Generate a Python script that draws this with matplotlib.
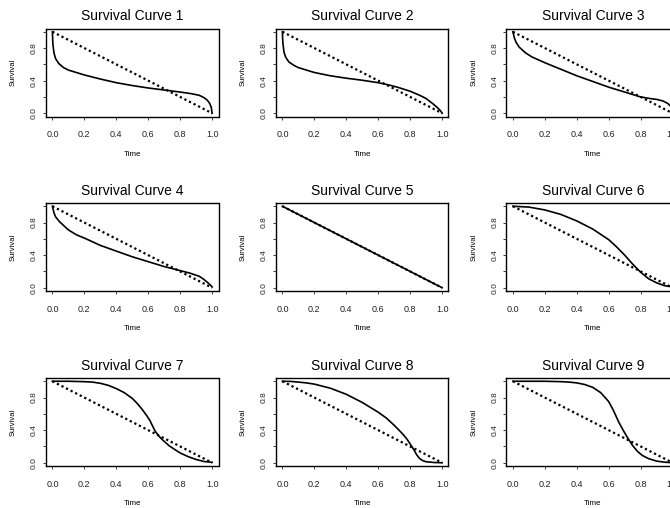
import matplotlib
matplotlib.use("Agg")
import matplotlib.pyplot as plt

plt.rcParams['font.family'] = ['Liberation Sans', 'DejaVu Sans']

titles = ["Survival Curve %d" % i for i in range(1, 10)]

# solid curves
t1 = [0.0, 0.003, 0.01, 0.02, 0.04, 0.07, 0.1, 0.15, 0.2, 0.3, 0.4, 0.5, 0.6, 0.7, 0.8, 0.87, 0.92, 0.95, 0.97, 0.985, 0.995, 1.0]
s1 = [1.0, 0.85, 0.74, 0.67, 0.61, 0.56, 0.53, 0.5, 0.47, 0.42, 0.375, 0.34, 0.31, 0.285, 0.26, 0.24, 0.22, 0.19, 0.16, 0.12, 0.07, 0.0]

t2 = [0.0, 0.003, 0.01, 0.02, 0.04, 0.07, 0.1, 0.15, 0.2, 0.3, 0.4, 0.5, 0.6, 0.66, 0.72, 0.8, 0.86, 0.9, 0.94, 0.97, 0.99, 1.0]
s2 = [1.0, 0.86, 0.75, 0.69, 0.63, 0.59, 0.56, 0.53, 0.5, 0.46, 0.43, 0.405, 0.375, 0.35, 0.32, 0.27, 0.22, 0.18, 0.12, 0.07, 0.03, 0.0]

t3 = [0.0, 0.01, 0.02, 0.04, 0.08, 0.12, 0.2, 0.3, 0.4, 0.5, 0.6, 0.7, 0.8, 0.86, 0.9, 0.94, 0.97, 0.99, 1.0]
s3 = [1.0, 0.92, 0.87, 0.81, 0.74, 0.69, 0.62, 0.54, 0.46, 0.39, 0.32, 0.26, 0.2, 0.18, 0.17, 0.15, 0.12, 0.08, 0.04]

t4 = [0.0, 0.01, 0.02, 0.045, 0.1, 0.15, 0.2, 0.3, 0.4, 0.5, 0.6, 0.7, 0.78, 0.86, 0.92, 0.95, 0.98, 1.0]
s4 = [1.0, 0.92, 0.87, 0.81, 0.71, 0.65, 0.61, 0.52, 0.45, 0.38, 0.32, 0.26, 0.22, 0.18, 0.14, 0.1, 0.05, 0.01]

t5 = [0.0, 1.0]
s5 = [1.0, 0.0]

t6 = [0.0, 0.1, 0.2, 0.3, 0.4, 0.5, 0.6, 0.65, 0.7, 0.75, 0.8, 0.85, 0.9, 0.95, 1.0]
s6 = [1.0, 0.99, 0.955, 0.9, 0.82, 0.72, 0.59, 0.5, 0.4, 0.29, 0.19, 0.11, 0.06, 0.025, 0.01]

t7 = [0.0, 0.1, 0.2, 0.25, 0.3, 0.35, 0.4, 0.45, 0.5, 0.53, 0.56, 0.59, 0.61, 0.625, 0.64, 0.65, 0.665, 0.69, 0.73, 0.76, 0.8, 0.85, 0.9, 0.95, 1.0]
s7 = [1.0, 1.0, 0.995, 0.99, 0.975, 0.95, 0.91, 0.86, 0.79, 0.73, 0.66, 0.58, 0.52, 0.46, 0.4, 0.37, 0.33, 0.28, 0.21, 0.17, 0.12, 0.075, 0.04, 0.015, 0.005]

t8 = [0.0, 0.05, 0.1, 0.15, 0.2, 0.3, 0.4, 0.5, 0.6, 0.65, 0.7, 0.75, 0.78, 0.8, 0.82, 0.84, 0.86, 0.88, 0.9, 0.95, 1.0]
s8 = [1.0, 0.998, 0.99, 0.98, 0.965, 0.915, 0.84, 0.74, 0.62, 0.55, 0.46, 0.36, 0.29, 0.23, 0.17, 0.1, 0.05, 0.025, 0.012, 0.003, 0.0]

t9 = [0.0, 0.2, 0.3, 0.35, 0.4, 0.45, 0.5, 0.55, 0.6, 0.63, 0.66, 0.69, 0.72, 0.75, 0.78, 0.81, 0.85, 0.9, 0.95, 1.0]
s9 = [1.0, 1.0, 0.995, 0.99, 0.98, 0.96, 0.925, 0.86, 0.75, 0.64, 0.51, 0.4, 0.3, 0.21, 0.14, 0.09, 0.05, 0.02, 0.007, 0.0]

curves = [(t1, s1), (t2, s2), (t3, s3), (t4, s4), (t5, s5),
          (t6, s6), (t7, s7), (t8, s8), (t9, s9)]

# reference (dotted) line
ref_t = [0.0, 1.0]
ref_s = [1.0, 0.0]

ticks = [0.0, 0.2, 0.4, 0.6, 0.8, 1.0]
x_labels = ["0.0", "0.2", "0.4", "0.6", "0.8", "1.0"]
y_labels = ["0.0", "", "0.4", "", "0.8", ""]

W, H = 670, 508
fig = plt.figure(figsize=(W / 100, H / 100), dpi=100)

lefts = [46, 276, 506.5]
tops = [28.5, 203, 378]
aw, ah = 172.5, 88

for i, (t, s) in enumerate(curves):
    r, c = divmod(i, 3)
    ax = fig.add_axes([lefts[c] / W, 1 - (tops[r] + ah) / H, aw / W, ah / H])
    ax.plot(ref_t, ref_s, color="black", lw=1.6, dashes=(1, 1.3), dash_capstyle="butt")
    ax.plot(t, s, color="black", lw=1.2)
    ax.set_xlim(-0.04, 1.04)
    ax.set_ylim(-0.04, 1.04)
    ax.set_xticks(ticks)
    ax.set_xticklabels(x_labels)
    ax.set_yticks(ticks)
    ax.set_yticklabels(y_labels, rotation=90, va="center")
    ax.tick_params(axis="x", length=2, width=0.6, pad=8, labelsize=6.5, colors="#222222")
    ax.tick_params(axis="y", length=2, width=0.6, pad=4, labelsize=6, colors="#222222")
    for sp in ax.spines.values():
        sp.set_linewidth(1.0)
    ax.set_title(titles[i], fontsize=10, pad=6)
    ax.set_xlabel("Time", fontsize=5.8)
    ax.set_ylabel("Survival", fontsize=5.5)
    ax.xaxis.set_label_coords(0.5, -0.39)
    ax.yaxis.set_label_coords(-0.168, 0.5)

fig.savefig("out.png", dpi=100)
